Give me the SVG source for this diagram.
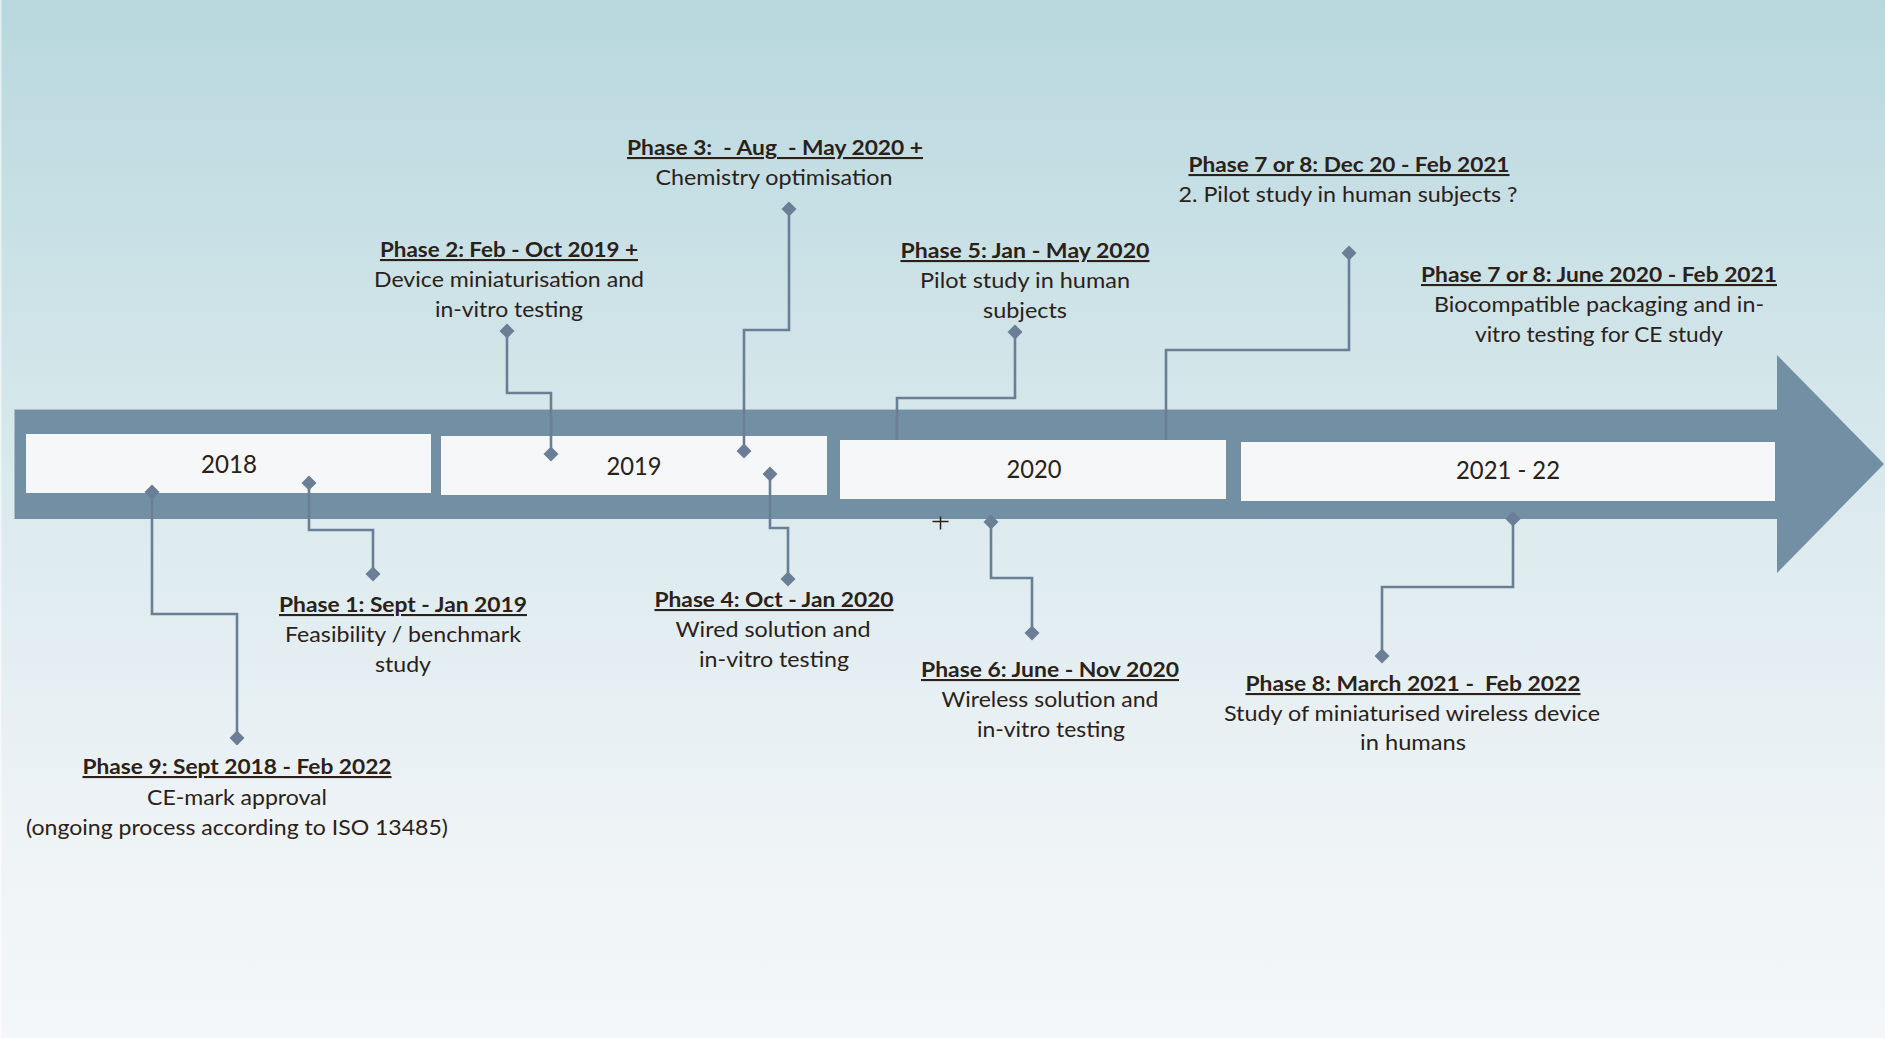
<svg xmlns="http://www.w3.org/2000/svg" width="1885" height="1038" viewBox="0 0 1885 1038">
<defs>
<linearGradient id="bg" x1="0" y1="0" x2="0" y2="1">
<stop offset="0" stop-color="#b8d8de"/>
<stop offset="0.45" stop-color="#d9e9ed"/>
<stop offset="0.8" stop-color="#eef3f6"/>
<stop offset="1" stop-color="#f4f7f9"/>
</linearGradient>
<marker id="dia" markerUnits="userSpaceOnUse" markerWidth="18" markerHeight="18" refX="9" refY="9" orient="0">
<path d="M9,1.5 L16.5,9 L9,16.5 L1.5,9 Z" fill="#6a7f95"/>
</marker>
<style>
.t{font-family:Lato,"Open Sans","Liberation Sans",sans-serif;fill:#2b2119;text-anchor:middle}
.h{font-size:21px;font-weight:bold;text-decoration:underline}
.d{font-size:21px}
.y{font-size:25px}
.pre{white-space:pre}
.box{fill:#f5f7f9}
.c{fill:none;stroke:#6a7f95;stroke-width:2.6;marker-start:url(#dia)}
.c2{marker-end:url(#dia)}
</style>
</defs>
<rect x="0" y="0" width="1885" height="1038" fill="url(#bg)"/>
<line x1="0.8" y1="0" x2="0.8" y2="1038" stroke="#ffffff" stroke-opacity="0.6" stroke-width="1.5"/>

<g id="timeline-arrow">
<polygon points="14.5,409 1777,409 1777,355 1884,464 1777,573 1777,519 14.5,519" fill="#728fa4"/>
<line x1="14.5" y1="409.5" x2="1777" y2="409.5" stroke="#a9c0cc" stroke-width="1"/>
</g>

<g id="year-2018">
<rect class="box" x="26" y="434" width="405" height="59"/>
<text class="t y" x="229" y="473" textLength="56" lengthAdjust="spacingAndGlyphs">2018</text>
</g>
<g id="year-2019">
<rect class="box" x="441" y="436" width="386" height="59"/>
<text class="t y" x="634" y="475" textLength="55" lengthAdjust="spacingAndGlyphs">2019</text>
</g>
<g id="year-2020">
<rect class="box" x="840" y="440" width="386" height="59"/>
<text class="t y" x="1034" y="478" textLength="55" lengthAdjust="spacingAndGlyphs">2020</text>
</g>
<g id="year-2021-22">
<rect class="box" x="1241" y="442" width="534" height="59"/>
<text class="t y" x="1508" y="479" textLength="104" lengthAdjust="spacingAndGlyphs">2021 - 22</text>
</g>

<g id="connectors">
<path class="c c2" d="M507,331 V393 H551 V454"/>
<path class="c c2" d="M789,209 V330 H744 V451"/>
<path class="c c2" d="M770,474 V528 H788 V579"/>
<path class="c c2" d="M309,483 V530 H373 V574"/>
<path class="c c2" d="M152,492 V614 H237 V738"/>
<path class="c" d="M1015,332 V398 H897 V440"/>
<path class="c" d="M1349,253 V350 H1166 V440"/>
<path class="c c2" d="M991,522 V578 H1032 V633"/>
<path class="c c2" d="M1513,519 V587 H1382 V656"/>
</g>

<g id="cursor-mark">
<path d="M940.5,516.5 V529.5 M932.5,521.5 H948.5" stroke="#2b2119" stroke-width="1.5" fill="none"/>
</g>

<g id="phase-1">
<text class="t h" x="403" y="612" textLength="248" lengthAdjust="spacingAndGlyphs">Phase 1: Sept - Jan 2019</text>
<text class="t d" x="403" y="642" textLength="236" lengthAdjust="spacingAndGlyphs">Feasibility / benchmark</text>
<text class="t d" x="403" y="672" textLength="56" lengthAdjust="spacingAndGlyphs">study</text>
</g>
<g id="phase-2">
<text class="t h" x="509" y="257" textLength="258" lengthAdjust="spacingAndGlyphs">Phase 2: Feb - Oct 2019 +</text>
<text class="t d" x="509" y="287" textLength="270" lengthAdjust="spacingAndGlyphs">Device miniaturisation and</text>
<text class="t d" x="509" y="317" textLength="148" lengthAdjust="spacingAndGlyphs">in-vitro testing</text>
</g>
<g id="phase-3">
<text class="t h pre" xml:space="preserve" x="775" y="155" textLength="296" lengthAdjust="spacingAndGlyphs">Phase 3:  - Aug  - May 2020 +</text>
<text class="t d" x="774" y="185" textLength="237" lengthAdjust="spacingAndGlyphs">Chemistry optimisation</text>
</g>
<g id="phase-4">
<text class="t h" x="774" y="607" textLength="239" lengthAdjust="spacingAndGlyphs">Phase 4: Oct - Jan 2020</text>
<text class="t d" x="773" y="637" textLength="195" lengthAdjust="spacingAndGlyphs">Wired solution and</text>
<text class="t d" x="774" y="667" textLength="150" lengthAdjust="spacingAndGlyphs">in-vitro testing</text>
</g>
<g id="phase-5">
<text class="t h" x="1025" y="258" textLength="249" lengthAdjust="spacingAndGlyphs">Phase 5: Jan - May 2020</text>
<text class="t d" x="1025" y="288" textLength="210" lengthAdjust="spacingAndGlyphs">Pilot study in human</text>
<text class="t d" x="1025" y="318" textLength="84" lengthAdjust="spacingAndGlyphs">subjects</text>
</g>
<g id="phase-6">
<text class="t h" x="1050" y="677" textLength="258" lengthAdjust="spacingAndGlyphs">Phase 6: June - Nov 2020</text>
<text class="t d" x="1050" y="707" textLength="217" lengthAdjust="spacingAndGlyphs">Wireless solution and</text>
<text class="t d" x="1051" y="737" textLength="148" lengthAdjust="spacingAndGlyphs">in-vitro testing</text>
</g>
<g id="phase-7-8-dec">
<text class="t h" x="1349" y="172" textLength="321" lengthAdjust="spacingAndGlyphs">Phase 7 or 8: Dec 20 - Feb 2021</text>
<text class="t d" x="1348" y="202" textLength="339" lengthAdjust="spacingAndGlyphs">2. Pilot study in human subjects ?</text>
</g>
<g id="phase-7-8-june">
<text class="t h" x="1599" y="282" textLength="356" lengthAdjust="spacingAndGlyphs">Phase 7 or 8: June 2020 - Feb 2021</text>
<text class="t d" x="1599" y="312" textLength="330" lengthAdjust="spacingAndGlyphs">Biocompatible packaging and in-</text>
<text class="t d" x="1599" y="342" textLength="248" lengthAdjust="spacingAndGlyphs">vitro testing for CE study</text>
</g>
<g id="phase-8">
<text class="t h pre" xml:space="preserve" x="1413" y="691" textLength="335" lengthAdjust="spacingAndGlyphs">Phase 8: March 2021 -  Feb 2022</text>
<text class="t d" x="1412" y="721" textLength="376" lengthAdjust="spacingAndGlyphs">Study of miniaturised wireless device</text>
<text class="t d" x="1413" y="750" textLength="106" lengthAdjust="spacingAndGlyphs">in humans</text>
</g>
<g id="phase-9">
<text class="t h" x="237" y="774" textLength="309" lengthAdjust="spacingAndGlyphs">Phase 9: Sept 2018 - Feb 2022</text>
<text class="t d" x="237" y="805" textLength="180" lengthAdjust="spacingAndGlyphs">CE-mark approval</text>
<text class="t d" x="237" y="835" textLength="422" lengthAdjust="spacingAndGlyphs">(ongoing process according to ISO 13485)</text>
</g>
</svg>
